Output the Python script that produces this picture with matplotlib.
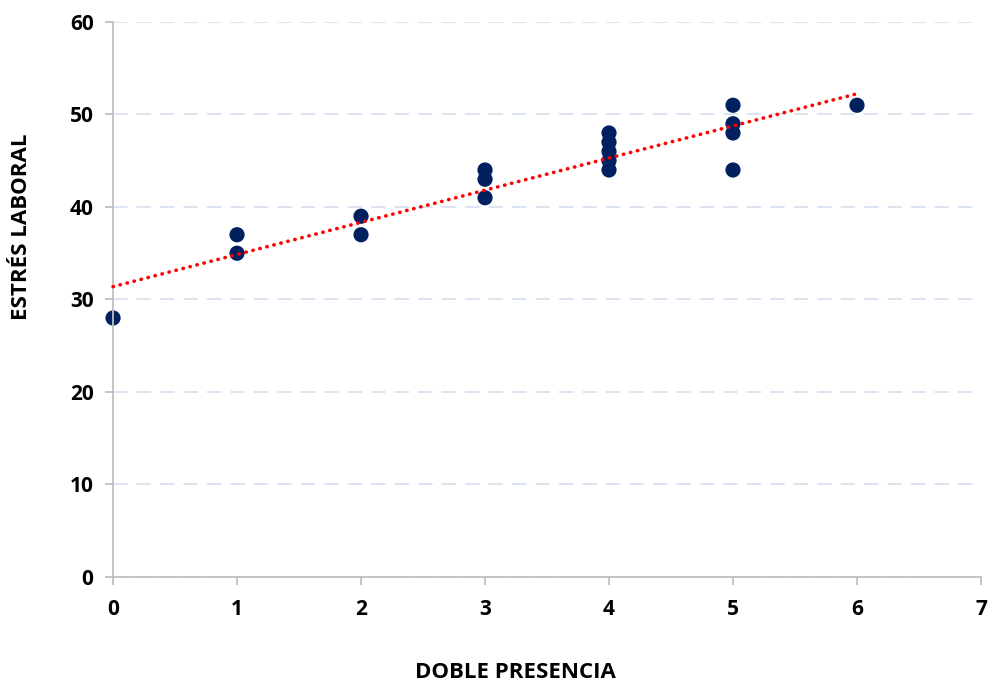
import numpy as np
import matplotlib
matplotlib.use("Agg")
import matplotlib.pyplot as plt

# data
doble_presencia = [0, 1, 1, 2, 2, 3, 3, 3, 4, 4, 4, 4, 4, 5, 5, 5, 5, 6]
estres_laboral = [28, 37, 35, 39, 37, 44, 43, 41, 48, 47, 46, 45, 44, 51, 49, 48, 44, 51]
x_ticks = [0, 1, 2, 3, 4, 5, 6, 7]
y_ticks = [0, 10, 20, 30, 40, 50, 60]

plt.rcParams['font.family'] = ['Open Sans', 'DejaVu Sans']

fig = plt.figure(figsize=(9.89, 6.85), dpi=100)
ax = fig.add_axes([0.1143, 0.1577, 0.8776, 0.8102])

# trend line (least squares)
m, b = np.polyfit(doble_presencia, estres_laboral, 1)
tx = np.array([0, max(doble_presencia)])
ax.plot(tx, m * tx + b, color='#FF0000', linestyle=(0, (0.1, 1.9)),
        linewidth=2.6, dash_capstyle='round', zorder=3, clip_on=False)

ax.scatter(doble_presencia, estres_laboral, s=120, color='#002060', zorder=2,
           edgecolors='none', clip_on=False)

ax.set_xlim(0, 7)
ax.set_ylim(0, 60)
ax.set_xticks(x_ticks)
ax.set_yticks(y_ticks)
ax.yaxis.grid(True, color='#D9E1F2', linestyle=(0, (8, 5)), linewidth=1.3)
ax.set_axisbelow(True)

for s in ['top', 'right']:
    ax.spines[s].set_visible(False)
for s in ['left', 'bottom']:
    ax.spines[s].set_color('#BFBFBF')
    ax.spines[s].set_linewidth(1.3)
ax.tick_params(axis='both', color='#BFBFBF', length=6, width=1.3,
               labelsize=15, labelcolor='black')
ax.tick_params(axis='x', pad=10)
ax.tick_params(axis='y', pad=8)
for lab in ax.get_xticklabels() + ax.get_yticklabels():
    lab.set_fontweight('bold')

# axis titles placed where the original puts them
fig.text(515 / 989, 1 - 672 / 685, 'DOBLE PRESENCIA', fontsize=16, fontweight='bold',
         ha='center', va='center')
fig.text(22 / 989, 1 - 227 / 685, 'ESTRÉS LABORAL', fontsize=16, fontweight='bold',
         ha='center', va='center', rotation=90)

fig.savefig('out.png', dpi=100)
